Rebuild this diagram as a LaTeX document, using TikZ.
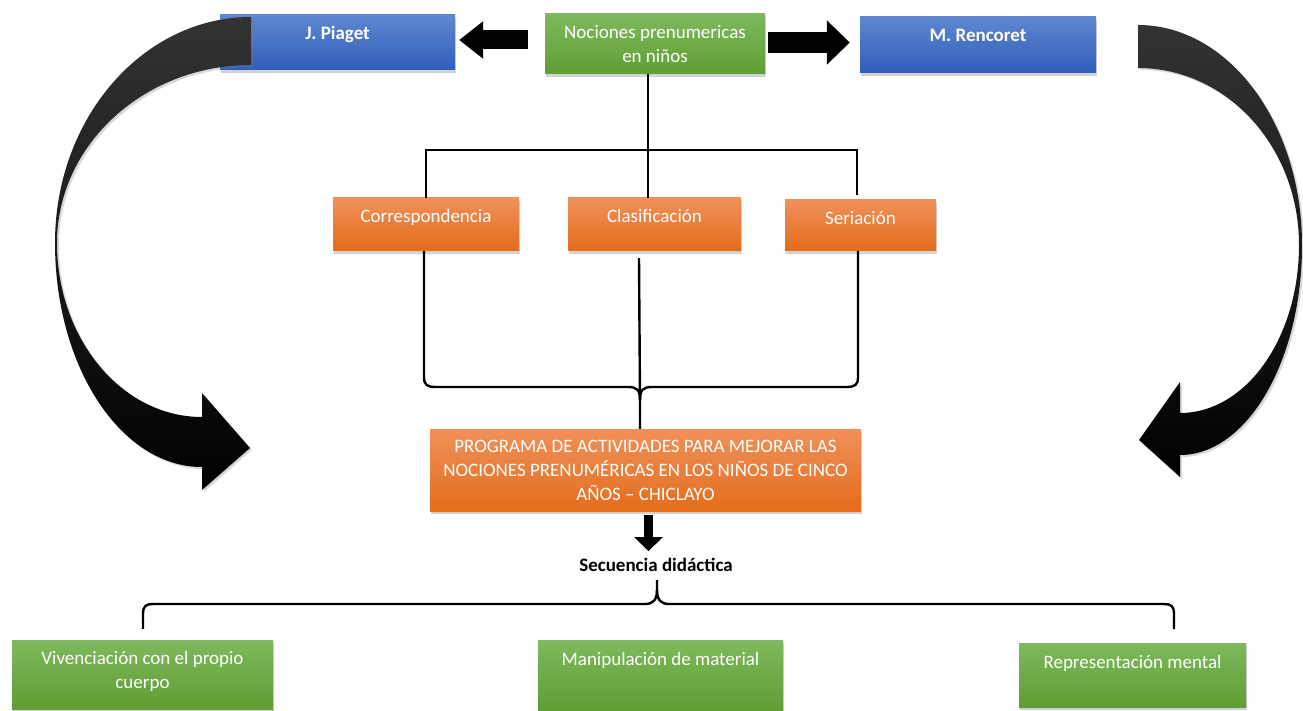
\documentclass[tikz,border=0pt]{standalone}
\usepackage{fontspec}
\setmainfont{Carlito}
\usepackage{tikz}
\usetikzlibrary{arrows.meta}
\usetikzlibrary{shadows}
\definecolor{bluetop}{RGB}{95,135,208}
\definecolor{bluebot}{RGB}{47,93,186}
\definecolor{greentop}{RGB}{126,185,92}
\definecolor{greenbot}{RGB}{95,158,52}
\definecolor{orangetop}{RGB}{240,145,90}
\definecolor{orangebot}{RGB}{228,108,28}
\newcommand{\boxfont}{\fontsize{19}{24}\selectfont}
\tikzstyle{box} = [rectangle, inner sep=0pt, text=white, font=\boxfont,
    drop shadow={shadow xshift=1pt, shadow yshift=-3pt, opacity=0.35}]
\tikzstyle{bluebox} = [box, top color=bluetop, bottom color=bluebot, font=\boxfont\bfseries]
\tikzstyle{greenbox} = [box, top color=greentop, bottom color=greenbot, align=center]
\tikzstyle{orangebox} = [box, top color=orangetop, bottom color=orangebot, align=center]
\tikzstyle{line} = [draw, line width=2.4pt]
\tikzstyle{curvearrow} = [top color=black!80, bottom color=black,
    drop shadow={shadow xshift=2pt, shadow yshift=-2pt, opacity=0.3}]

\begin{document}
\begin{tikzpicture}[x=1pt, y=-1pt]
  \fill[white] (0,0) rectangle (1303,711);
  \useasboundingbox (0,0) rectangle (1303,711);

  \node [bluebox, minimum width=235pt, text height=25pt, text depth=30pt] (piaget) at (337.5,42.5) {J. Piaget};
  \node [greenbox, minimum width=220pt, minimum height=60pt] (nociones) at (655,44) {Nociones prenumericas\\en niños};
  \node [bluebox, minimum width=236pt, text height=25pt, text depth=31pt] (rencoret) at (978,45) {M. Rencoret};

  \node [orangebox, minimum width=186pt, text height=25pt, text depth=28pt] (corresp) at (426,224.5) {Correspondencia};
  \node [orangebox, minimum width=173pt, text height=25pt, text depth=28pt] (clasif) at (654.5,224.5) {Clasificación};
  \node [orangebox, minimum width=151pt, text height=25pt, text depth=26pt] (seriacion) at (860.5,225.5) {Seriación};

  \node [orangebox, minimum width=431pt, minimum height=82pt] (programa) at (645.5,470)
    {PROGRAMA DE ACTIVIDADES PARA MEJORAR LAS\\NOCIONES PRENUMÉRICAS EN LOS NIÑOS DE CINCO\\AÑOS -- CHICLAYO};
  \node [inner sep=0pt, font=\boxfont\bfseries] (secuencia) at (656,565) {Secuencia didáctica};

  \node [greenbox, minimum width=261pt, text height=24pt, text depth=45pt] (vivencia) at (142.5,674.5)
    {\parbox[t]{250pt}{\centering Vivenciación con el propio\\cuerpo}};
  \node [greenbox, minimum width=245pt, text height=25pt, text depth=46pt] (manip) at (660.5,675.5) {Manipulación de material};
  \node [greenbox, minimum width=227pt, text height=25pt, text depth=39pt] (repres) at (1132.5,675) {Representación mental};

  \path [draw, line width=19pt, -{Triangle[length=24pt, width=36pt]}, shorten <=17pt, shorten >=4pt]
    ([yshift=4pt]nociones.west) -- ([yshift=2.5pt]piaget.east);
  \path [draw, line width=21pt, -{Triangle[length=23pt, width=43pt]}, shorten <=3pt, shorten >=10pt]
    ([yshift=1.5pt]nociones.east) -- ([yshift=2.5pt]rencoret.west);

  \path [line] ([xshift=-7pt]nociones.south) -- ([xshift=-6.5pt]clasif.north);
  \path [line] (corresp.north) -- (corresp.north |- 0,150) -- ([xshift=-3.5pt]seriacion.north |- 0,150)
    -- ([xshift=-3.5pt,yshift=5pt]seriacion.north);

  \coordinate (join) at (640,400);
  \path [line] ([xshift=-2pt]corresp.south) -- (424,377) .. controls (424,385) and (427,387) .. (436,387)
    -- (628,387) .. controls (637,387) and (640,390) .. (join) -- ([xshift=-5.5pt]programa.north);
  \path [line] ([xshift=-2.5pt]seriacion.south) -- (858,377) .. controls (858,385) and (855,387) .. (846,387)
    -- (652,387) .. controls (643,387) and (640,390) .. (join);
  \path [line] ([xshift=-15.5pt,yshift=-7pt]clasif.south) -- (join);

  \path [draw, line width=9pt, -{Triangle[length=14pt, width=28pt]}, shorten <=4pt, shorten >=7pt]
    ([xshift=3pt]programa.south) -- ([xshift=3pt]programa.south |- secuencia.north);

  \coordinate (tip) at (657,580);
  \path [line] ([xshift=0.5pt,yshift=11pt]vivencia.north) -- (143,614) .. controls (143,606) and (146,604) .. (153,604)
    -- (645,604) .. controls (653,604) and (657,600) .. (657,590) -- (tip);
  \path [line] (1174,629) -- (1174,614) .. controls (1174,606) and (1171,604) .. (1164,604)
    -- (669,604) .. controls (661,604) and (657,600) .. (657,590);

  \shade [curvearrow] (251,17) .. controls (143,17) and (55,118) .. (55,243)
    .. controls (55,367) and (121,467) .. (202,467)
    -- (202,490) -- (250,448) -- (202,393) -- (202,417)
    .. controls (122,417) and (57,339) .. (57,243)
    .. controls (57,145) and (144,65) .. (251,65) -- cycle;
  \shade [curvearrow] (1138,25) .. controls (1229,25) and (1302,124) .. (1302,245)
    .. controls (1302,361) and (1247,455) .. (1180,455)
    -- (1180,477) -- (1139,440) -- (1180,382) -- (1180,413)
    .. controls (1246,413) and (1299,338) .. (1299,245)
    .. controls (1299,147) and (1227,68) .. (1138,68) -- cycle;
\end{tikzpicture}
\end{document}
